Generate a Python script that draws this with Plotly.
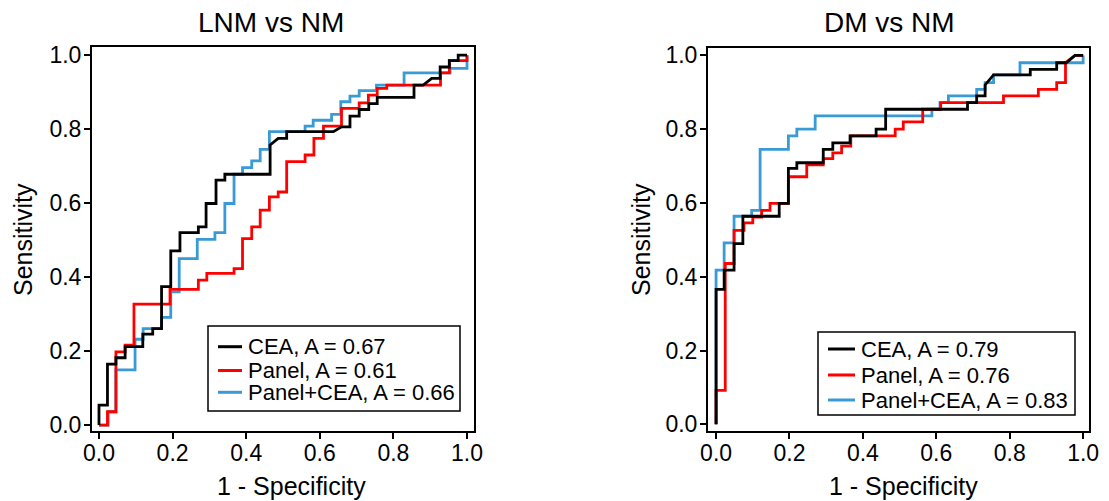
import plotly.graph_objects as go

# ---------------- data ----------------
tick_vals = [0.0, 0.2, 0.4, 0.6, 0.8, 1.0]
tick_text = ["0.0", "0.2", "0.4", "0.6", "0.8", "1.0"]

panel_titles = ["LNM vs NM", "DM vs NM"]
series_names = ["CEA", "Panel", "Panel+CEA"]
lnm_auc = [0.67, 0.61, 0.66]
dm_auc = [0.79, 0.76, 0.83]

# LNM vs NM
lnm_cea_fpr = [0, 0, 0.023, 0.023, 0.046, 0.046, 0.071, 0.071, 0.119, 0.119, 0.146, 0.146, 0.17, 0.17,
               0.195, 0.195, 0.22, 0.22, 0.27, 0.27, 0.291, 0.291, 0.318, 0.318, 0.342, 0.342, 0.465, 0.465,
               0.487, 0.51, 0.51, 0.637, 0.659, 0.682, 0.682, 0.707, 0.707, 0.733, 0.733, 0.756, 0.756,
               0.856, 0.856, 0.881, 0.904, 0.927, 0.927, 0.952, 0.952, 0.976, 0.976, 1.0]
lnm_cea_tpr = [0, 0.054, 0.054, 0.165, 0.165, 0.182, 0.182, 0.212, 0.212, 0.246, 0.246, 0.261, 0.261, 0.374,
               0.374, 0.471, 0.471, 0.52, 0.52, 0.536, 0.536, 0.599, 0.599, 0.662, 0.662, 0.678, 0.678, 0.757,
               0.775, 0.775, 0.793, 0.793, 0.806, 0.806, 0.835, 0.835, 0.853, 0.853, 0.869, 0.869, 0.886,
               0.886, 0.919, 0.919, 0.937, 0.937, 0.968, 0.968, 0.985, 0.985, 1.0, 1.0]

lnm_panel_fpr = [0, 0.023, 0.023, 0.046, 0.046, 0.071, 0.071, 0.095, 0.095, 0.193, 0.193, 0.27, 0.27, 0.293,
                 0.293, 0.367, 0.367, 0.39, 0.39, 0.415, 0.415, 0.438, 0.438, 0.463, 0.463, 0.487, 0.487, 0.51,
                 0.51, 0.56, 0.56, 0.584, 0.584, 0.61, 0.61, 0.659, 0.659, 0.707, 0.707, 0.732, 0.732, 0.756,
                 0.756, 0.782, 0.782, 0.928, 0.928, 0.952, 0.952, 1.0, 1.0]
lnm_panel_tpr = [0, 0, 0.036, 0.036, 0.198, 0.198, 0.216, 0.216, 0.327, 0.327, 0.367, 0.367, 0.392, 0.392,
                 0.41, 0.41, 0.423, 0.423, 0.504, 0.504, 0.536, 0.536, 0.581, 0.581, 0.617, 0.617, 0.63, 0.63,
                 0.712, 0.712, 0.73, 0.73, 0.775, 0.775, 0.808, 0.808, 0.856, 0.856, 0.871, 0.871, 0.892, 0.892,
                 0.91, 0.91, 0.919, 0.919, 0.952, 0.952, 0.985, 0.985, 1.0]

lnm_combo_fpr = [0, 0.025, 0.025, 0.046, 0.046, 0.098, 0.098, 0.12, 0.12, 0.17, 0.17, 0.195, 0.195, 0.218,
                 0.218, 0.267, 0.267, 0.315, 0.315, 0.342, 0.342, 0.367, 0.367, 0.39, 0.39, 0.415, 0.415, 0.438,
                 0.438, 0.463, 0.463, 0.56, 0.56, 0.582, 0.582, 0.632, 0.632, 0.657, 0.657, 0.682, 0.682, 0.707,
                 0.707, 0.754, 0.754, 0.829, 0.829, 0.954, 0.954, 1.0, 1.0]
lnm_combo_tpr = [0, 0, 0.036, 0.036, 0.149, 0.149, 0.232, 0.232, 0.261, 0.261, 0.291, 0.291, 0.36, 0.36,
                 0.45, 0.45, 0.502, 0.502, 0.52, 0.52, 0.599, 0.599, 0.678, 0.678, 0.696, 0.696, 0.714, 0.714,
                 0.745, 0.745, 0.793, 0.793, 0.808, 0.808, 0.824, 0.824, 0.84, 0.84, 0.874, 0.874, 0.889, 0.889,
                 0.904, 0.904, 0.919, 0.919, 0.952, 0.952, 0.964, 0.964, 1.0]

# DM vs NM
dm_cea_fpr = [0, 0, 0.022, 0.022, 0.049, 0.049, 0.073, 0.073, 0.172, 0.172, 0.197, 0.197, 0.22, 0.22,
              0.292, 0.292, 0.318, 0.318, 0.365, 0.365, 0.436, 0.436, 0.462, 0.462, 0.685, 0.685, 0.71, 0.71,
              0.733, 0.733, 0.756, 0.856, 0.856, 0.928, 0.928, 0.954, 0.978, 1.0]
dm_cea_tpr = [0, 0.366, 0.366, 0.418, 0.418, 0.49, 0.49, 0.564, 0.564, 0.599, 0.599, 0.694, 0.694, 0.709,
              0.709, 0.745, 0.745, 0.763, 0.763, 0.782, 0.782, 0.8, 0.8, 0.854, 0.854, 0.872, 0.872, 0.89,
              0.89, 0.92, 0.947, 0.947, 0.962, 0.962, 0.98, 0.98, 1.0, 1.0]

dm_panel_fpr = [0, 0, 0.025, 0.025, 0.049, 0.049, 0.076, 0.076, 0.1, 0.1, 0.124, 0.124, 0.147, 0.147,
                0.197, 0.197, 0.247, 0.247, 0.292, 0.292, 0.318, 0.318, 0.342, 0.342, 0.367, 0.367, 0.488,
                0.488, 0.51, 0.51, 0.563, 0.563, 0.612, 0.612, 0.783, 0.783, 0.878, 0.878, 0.928, 0.928,
                0.952, 0.952, 0.978, 1.0]
dm_panel_tpr = [0, 0.092, 0.092, 0.436, 0.436, 0.526, 0.526, 0.546, 0.546, 0.562, 0.562, 0.58, 0.58, 0.599,
                0.599, 0.671, 0.671, 0.703, 0.703, 0.72, 0.72, 0.736, 0.736, 0.754, 0.754, 0.782, 0.782,
                0.8, 0.8, 0.82, 0.82, 0.854, 0.854, 0.872, 0.872, 0.89, 0.89, 0.908, 0.908, 0.926, 0.926,
                0.98, 1.0, 1.0]

dm_combo_fpr = [0, 0, 0.022, 0.022, 0.049, 0.049, 0.097, 0.097, 0.12, 0.12, 0.197, 0.197, 0.22, 0.22,
                0.27, 0.27, 0.588, 0.588, 0.61, 0.61, 0.633, 0.633, 0.71, 0.71, 0.733, 0.733, 0.756, 0.756,
                0.828, 0.828, 1.0, 1.0]
dm_combo_tpr = [0, 0.418, 0.418, 0.492, 0.492, 0.564, 0.564, 0.58, 0.58, 0.745, 0.745, 0.782, 0.782, 0.8,
                0.8, 0.836, 0.836, 0.854, 0.854, 0.872, 0.872, 0.89, 0.89, 0.908, 0.908, 0.926, 0.926, 0.947,
                0.947, 0.98, 0.98, 1.0]

colors = {"CEA": "#000000", "Panel": "#FF0000", "Panel+CEA": "#3A9AD5"}

# ---------------- figure ----------------
FONT = "Arial, Liberation Sans, sans-serif"
W, H = 1109, 501


def px(xs):  # screen x pixel -> paper fraction
    return xs / W


def py(ys):  # screen y pixel (from top) -> paper fraction (from bottom)
    return (H - ys) / H


fig = go.Figure()

panels = [
    ("x", "y", lnm_auc,
     {"CEA": (lnm_cea_fpr, lnm_cea_tpr), "Panel": (lnm_panel_fpr, lnm_panel_tpr),
      "Panel+CEA": (lnm_combo_fpr, lnm_combo_tpr)}),
    ("x2", "y2", dm_auc,
     {"CEA": (dm_cea_fpr, dm_cea_tpr), "Panel": (dm_panel_fpr, dm_panel_tpr),
      "Panel+CEA": (dm_combo_fpr, dm_combo_tpr)}),
]

# draw order: blue bottom, red, black top
for xa, ya, aucs, data in panels:
    for name in ["Panel+CEA", "Panel", "CEA"]:
        idx = series_names.index(name)
        xs, ys = data[name]
        fig.add_trace(go.Scatter(
            x=xs, y=ys, mode="lines", xaxis=xa, yaxis=ya,
            name=f"{name}, A = {aucs[idx]:.2f}", showlegend=False,
            line=dict(color=colors[name], width=2.8),
        ))

axis_common = dict(
    showline=True, linecolor="black", linewidth=2, mirror=True,
    ticks="outside", ticklen=6, tickwidth=2, tickcolor="black",
    tickvals=tick_vals, ticktext=tick_text,
    tickfont=dict(family=FONT, size=23, color="black"),
    showgrid=False, zeroline=False, automargin=False,
)
x_common = dict(axis_common, ticklabelstandoff=-6)
y_common = dict(axis_common, ticklabelstandoff=-2)

fig.update_layout(
    width=W, height=H,
    margin=dict(l=0, r=0, t=0, b=0),
    paper_bgcolor="white", plot_bgcolor="white",
    font=dict(family=FONT, color="black"),
    xaxis=dict(domain=[px(92), px(474)], range=[-0.019, 1.019], anchor="y", **x_common),
    yaxis=dict(domain=[py(431), py(47)], range=[-0.016, 1.022], anchor="x", **y_common),
    xaxis2=dict(domain=[px(708), px(1089)], range=[-0.022, 1.016], anchor="y2", **x_common),
    yaxis2=dict(domain=[py(431), py(48)], range=[-0.018, 1.02], anchor="x2", **y_common),
    showlegend=False,
)

# titles and axis titles
texts = [
    (panel_titles[0], 271, 22, 0, 28),
    (panel_titles[1], 889, 22, 0, 28),
    ("1 - Specificity", 291, 486, 0, 25),
    ("1 - Specificity", 903, 486, 0, 25),
    ("Sensitivity", 23, 240, -90, 25),
    ("Sensitivity", 641, 240, -90, 25),
]
for t, x, y, ang, size in texts:
    fig.add_annotation(xref="paper", yref="paper", x=px(x), y=py(y), xanchor="center", yanchor="middle",
                       text=t, textangle=ang, showarrow=False, borderpad=0,
                       font=dict(family=FONT, size=size, color="black"))

# legends (box, line samples, labels)
legend_specs = [
    (lnm_auc, (208, 326, 460, 411), 218, 242, 247, [346.7, 370.5, 392.3]),
    (dm_auc, (818, 332, 1075, 415), 828, 855, 860, [349, 375, 400]),
]
for aucs, (x0, y0, x1, y1), lx0, lx1, tx, rows in legend_specs:
    fig.add_shape(type="rect", xref="paper", yref="paper", x0=px(x0), x1=px(x1), y0=py(y1), y1=py(y0),
                  line=dict(color="black", width=1.5), fillcolor="white", layer="above")
    for name, ry in zip(series_names, rows):
        idx = series_names.index(name)
        fig.add_shape(type="line", xref="paper", yref="paper", x0=px(lx0), x1=px(lx1), y0=py(ry), y1=py(ry),
                      line=dict(color=colors[name], width=3), layer="above")
        fig.add_annotation(xref="paper", yref="paper", x=px(tx), y=py(ry), xanchor="left", yanchor="middle",
                           text=f"{name}, A = {aucs[idx]:.2f}", showarrow=False, borderpad=0,
                           font=dict(family=FONT, size=22, color="black"))

# remove the browser's default 8px body margin so the figure sits at the page origin
fig.write_html("out.html", config={"displayModeBar": False},
               post_script="document.body.style.margin='0';")
